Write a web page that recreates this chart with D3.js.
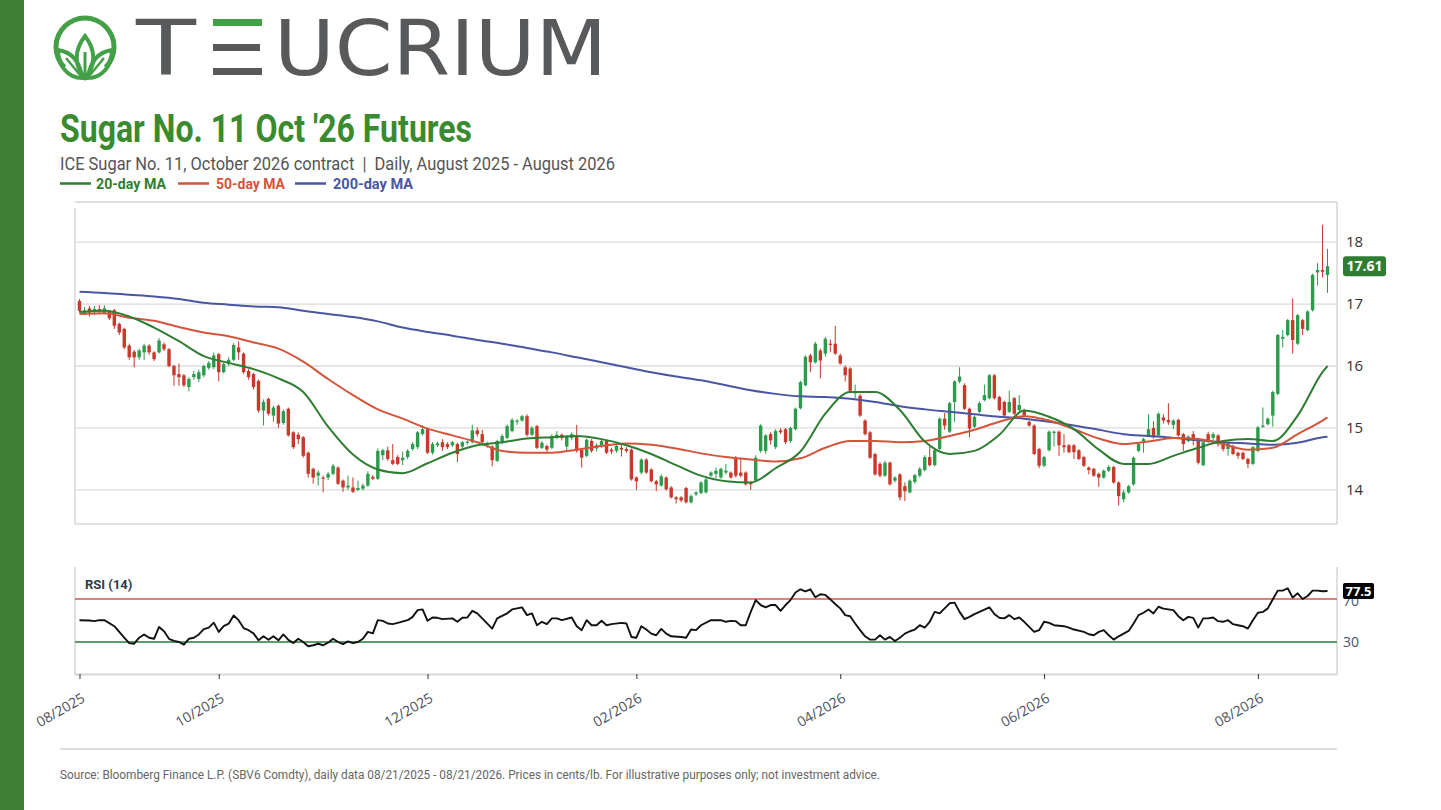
<!DOCTYPE html>
<html><head><meta charset="utf-8">
<script src="https://cdn.jsdelivr.net/npm/d3@7"></script>
<style>body{margin:0;background:#fff}svg{display:block;font-family:Roboto,"Noto Sans",sans-serif}</style>
</head><body><svg id="c" width="1441" height="810"></svg>
<script>
// ---------- DATA ----------
const startDate = "2025-08-21", endDate = "2026-08-21";
const holidays = ["2025-09-01","2025-11-27","2025-12-25","2026-01-01","2026-01-19","2026-02-16","2026-04-03","2026-05-25","2026-06-19","2026-07-03"];
const opens = [17.05,16.85,16.93,16.87,16.92,16.86,16.88,16.90,16.68,16.60,16.33,16.23,16.14,16.22,16.33,16.22,16.22,16.35,16.27,16.00,
15.87,15.85,15.66,15.82,15.79,15.85,15.97,15.98,16.19,15.90,16.03,16.10,16.30,16.20,15.92,15.87,15.76,15.28,15.47,15.20,
15.36,15.08,15.31,14.93,14.89,14.85,14.60,14.34,14.23,14.20,14.20,14.26,14.36,14.15,14.04,14.04,14.00,14.02,14.07,14.21,
14.18,14.56,14.64,14.48,14.53,14.48,14.53,14.66,14.69,14.90,14.98,14.60,14.72,14.77,14.74,14.72,14.74,14.70,14.76,14.77,
14.96,14.90,14.72,14.70,14.47,14.76,14.84,14.95,15.10,15.12,15.19,14.89,15.03,14.68,14.71,14.68,14.84,14.89,14.70,14.84,
14.87,14.65,14.55,14.79,14.67,14.70,14.79,14.65,14.63,14.68,14.66,14.65,14.20,14.28,14.49,14.33,14.14,14.07,14.20,14.04,
13.88,13.88,14.03,13.80,13.93,13.95,13.96,14.23,14.26,14.20,14.28,14.28,14.52,14.28,14.28,14.12,14.15,14.63,14.63,14.90,
14.69,14.96,14.98,14.79,14.98,15.32,15.69,16.17,16.06,16.25,16.20,16.36,16.36,16.17,15.98,15.96,15.56,15.52,15.12,14.93,
14.58,14.42,14.23,14.44,14.15,14.25,14.06,13.96,14.13,14.23,14.32,14.53,14.40,14.66,15.15,14.94,15.42,15.75,15.69,15.31,
15.02,15.26,15.45,15.48,15.85,15.50,15.42,15.26,15.48,15.29,15.29,15.10,15.04,14.66,14.39,14.64,14.92,14.94,14.72,14.72,
14.72,14.64,14.53,14.36,14.34,14.26,14.20,14.31,14.37,14.12,13.85,13.96,14.09,14.63,14.78,14.88,15.00,14.88,15.17,15.13,
15.05,15.13,14.90,14.79,14.90,14.82,14.40,14.90,14.84,14.88,14.77,14.66,14.71,14.60,14.60,14.50,14.42,14.63,15.02,15.06,
15.20,15.55,16.44,16.50,16.74,16.36,16.74,16.58,16.90,17.51,17.55,17.47];
const highs = [17.08,16.95,16.97,16.97,16.98,16.98,16.90,16.92,16.70,16.62,16.36,16.26,16.28,16.36,16.35,16.24,16.45,16.38,16.29,16.02,
16.04,15.87,15.82,15.92,15.94,16.02,16.08,16.22,16.21,16.06,16.14,16.37,16.40,16.22,15.95,15.89,15.78,15.46,15.49,15.36,
15.38,15.30,15.33,14.95,14.93,14.87,14.62,14.36,14.32,14.23,14.29,14.42,14.38,14.17,14.23,14.20,14.15,14.10,14.30,14.24,
14.67,14.66,14.70,14.74,14.56,14.62,14.66,14.77,14.95,15.04,15.00,14.77,14.78,14.82,14.77,14.79,14.76,14.79,14.80,15.05,
15.01,14.97,14.78,14.72,14.81,14.90,15.06,15.16,15.14,15.21,15.22,15.03,15.05,14.79,14.73,14.90,14.95,14.91,14.88,14.93,
15.05,14.67,14.83,14.82,14.75,14.82,14.81,14.68,14.74,14.74,14.69,14.67,14.22,14.51,14.51,14.35,14.16,14.25,14.22,14.06,
13.90,13.90,14.05,13.93,13.98,14.14,14.20,14.30,14.36,14.36,14.42,14.30,14.55,14.52,14.30,14.14,14.56,15.06,14.90,14.93,
14.98,15.00,15.00,15.02,15.33,15.76,16.17,16.20,16.39,16.28,16.47,16.43,16.65,16.20,16.01,15.98,15.70,15.55,15.14,14.95,
14.60,14.45,14.47,14.46,14.22,14.27,14.12,14.17,14.26,14.37,14.56,14.70,14.67,15.17,15.24,15.42,15.77,15.98,15.72,15.33,
15.20,15.43,15.70,15.87,15.87,15.52,15.44,15.60,15.50,15.53,15.31,15.12,15.06,14.68,14.55,14.96,14.96,14.96,14.90,14.74,
14.74,14.66,14.55,14.38,14.36,14.28,14.33,14.40,14.39,14.14,14.00,14.08,14.54,14.76,14.84,15.22,15.11,15.25,15.22,15.40,
15.14,15.15,14.92,14.88,14.95,14.84,14.79,14.94,14.93,14.90,14.79,14.77,14.73,14.62,14.62,14.52,14.71,15.03,15.33,15.17,
15.60,16.52,16.58,16.76,17.09,16.84,16.76,16.90,17.49,17.66,18.28,17.89];
const lows = [16.86,16.82,16.80,16.82,16.85,16.83,16.74,16.60,16.50,16.27,16.10,15.98,16.10,16.10,16.18,16.08,16.20,16.24,15.98,15.68,
15.68,15.66,15.59,15.78,15.74,15.82,15.94,15.95,15.75,15.88,16.00,16.08,16.10,15.87,15.78,15.62,15.25,15.04,15.20,15.10,
15.00,15.05,14.86,14.66,14.74,14.52,14.20,14.10,14.07,13.96,14.16,14.24,14.08,13.97,14.00,13.95,13.98,13.99,14.05,14.16,
14.16,14.48,14.47,14.40,14.40,14.40,14.50,14.63,14.66,14.88,14.58,14.57,14.69,14.63,14.66,14.69,14.45,14.67,14.73,14.75,
14.86,14.74,14.68,14.38,14.45,14.74,14.82,14.93,15.05,15.10,14.86,14.87,14.66,14.66,14.60,14.66,14.82,14.80,14.62,14.80,
14.60,14.36,14.53,14.60,14.62,14.68,14.58,14.58,14.60,14.54,14.60,14.15,14.00,14.25,14.26,14.12,13.98,14.05,13.99,13.86,
13.78,13.80,13.78,13.78,13.90,13.93,13.94,14.21,14.19,14.18,14.25,14.18,14.20,14.20,14.07,14.00,14.13,14.60,14.58,14.73,
14.66,14.90,14.74,14.76,14.96,15.30,15.67,15.90,16.04,15.80,16.15,16.22,16.18,16.02,15.75,15.56,15.48,15.18,14.88,14.50,
14.23,14.20,14.21,14.07,14.12,13.83,13.82,13.94,14.10,14.20,14.30,14.38,14.38,14.64,14.97,14.92,15.10,15.72,15.29,14.85,
15.00,15.24,15.43,15.46,15.46,15.27,15.18,15.24,15.21,15.27,15.18,15.02,14.56,14.35,14.37,14.62,14.70,14.55,14.60,14.59,
14.50,14.48,14.37,14.25,14.21,14.05,14.18,14.29,14.10,13.75,13.80,13.94,14.07,14.61,14.60,14.86,14.83,14.86,15.07,15.05,
14.98,14.86,14.63,14.77,14.72,14.41,14.38,14.76,14.80,14.70,14.62,14.55,14.56,14.50,14.48,14.35,14.40,14.61,15.00,15.04,
15.02,15.53,16.30,16.48,16.20,16.34,16.50,16.56,16.88,17.30,17.43,17.18];
const closes = [16.89,16.90,16.86,16.92,16.88,16.93,16.77,16.65,16.54,16.30,16.14,16.14,16.25,16.33,16.22,16.11,16.41,16.27,16.00,15.85,
15.82,15.69,15.79,15.87,15.90,16.00,16.05,16.17,15.90,16.03,16.10,16.34,16.22,15.90,15.82,15.66,15.28,15.42,15.23,15.33,
15.07,15.27,14.88,14.69,14.82,14.55,14.26,14.20,14.28,14.18,14.26,14.39,14.10,14.04,14.07,13.97,14.03,14.07,14.26,14.18,
14.63,14.64,14.50,14.42,14.42,14.52,14.63,14.74,14.93,14.98,14.60,14.74,14.75,14.69,14.69,14.77,14.58,14.77,14.78,14.96,
14.90,14.77,14.75,14.48,14.79,14.87,15.03,15.13,15.12,15.19,14.89,15.00,14.68,14.76,14.65,14.87,14.89,14.84,14.86,14.90,
14.63,14.52,14.81,14.63,14.72,14.79,14.60,14.62,14.71,14.65,14.63,14.17,14.14,14.49,14.28,14.14,14.09,14.22,14.01,13.88,
13.85,13.83,13.80,13.90,13.96,14.12,14.17,14.28,14.31,14.34,14.31,14.20,14.23,14.23,14.09,14.09,14.52,15.04,14.88,14.80,
14.95,14.93,14.77,15.00,15.31,15.74,16.15,16.06,16.36,16.09,16.44,16.34,16.20,16.04,15.85,15.60,15.58,15.20,14.90,14.52,
14.25,14.23,14.44,14.09,14.20,13.88,13.98,14.15,14.24,14.34,14.53,14.40,14.64,15.15,15.04,15.40,15.75,15.83,15.31,14.99,
15.18,15.40,15.53,15.85,15.48,15.29,15.20,15.42,15.23,15.37,15.20,15.04,14.58,14.39,14.53,14.94,14.94,14.72,14.69,14.61,
14.61,14.50,14.39,14.32,14.23,14.20,14.31,14.37,14.12,13.90,13.96,14.06,14.52,14.74,14.82,14.98,14.85,15.23,15.12,15.09,
15.12,14.88,14.74,14.86,14.79,14.44,14.77,14.79,14.90,14.74,14.66,14.75,14.58,14.55,14.50,14.42,14.69,15.01,15.04,15.15,
15.58,16.50,16.47,16.74,16.42,16.82,16.60,16.88,17.47,17.55,17.52,17.61];
// moving averages at trading-day positions
const maIdx = [0,5,10,15,20,25,30,35,40,45,50,55,60,65,70,75,80,85,90,95,100,105,110,115,120,125,130,135,140,145,150,155,160,165,170,175,180,185,190,195,200,205,210,215,220,225,230,235,240,245,250,251];
const ma20 = [16.87,16.89,16.80,16.62,16.40,16.16,16.05,15.95,15.80,15.58,15.02,14.57,14.33,14.27,14.43,14.60,14.72,14.77,14.83,14.85,14.87,14.82,14.72,14.58,14.40,14.23,14.14,14.12,14.35,14.62,15.23,15.58,15.58,15.29,14.78,14.58,14.63,14.89,15.28,15.18,14.98,14.65,14.42,14.42,14.55,14.68,14.79,14.82,14.79,15.20,15.90,16.00];
const ma50 = [16.84,16.85,16.78,16.73,16.63,16.54,16.48,16.38,16.28,16.07,15.79,15.53,15.30,15.15,14.99,14.88,14.77,14.63,14.60,14.60,14.65,14.71,14.75,14.73,14.67,14.59,14.53,14.49,14.46,14.51,14.68,14.79,14.79,14.77,14.79,14.87,14.97,15.10,15.19,15.12,14.98,14.83,14.74,14.78,14.84,14.82,14.74,14.65,14.68,14.90,15.12,15.17];
const ma200 = [17.20,17.18,17.15,17.12,17.08,17.02,16.99,16.96,16.95,16.89,16.84,16.79,16.72,16.62,16.55,16.49,16.42,16.36,16.29,16.22,16.14,16.06,15.98,15.90,15.83,15.77,15.69,15.61,15.55,15.51,15.50,15.47,15.42,15.35,15.30,15.26,15.22,15.18,15.15,15.10,15.04,14.97,14.90,14.87,14.84,14.80,14.77,14.75,14.73,14.76,14.85,14.86];
// RSI(14)
const rsiIdx = [0,2,3,4,5,7,8,9,10,11,12,13,14,15,16,17,18,19,20,21,22,23,24,25,26,27,28,29,30,31,32,33,34,35,36,37,38,39,40,41,42,43,44,45,46,47,48,49,50,51,52,53,54,55,56,57,58,59,60,61,62,63,64,66,67,68,69,70,71,72,73,75,76,77,78,79,80,81,83,84,86,87,88,89,90,91,92,93,94,95,96,97,99,100,101,102,103,104,105,106,107,109,110,111,112,113,114,115,116,117,118,119,121,122,123,124,125,127,128,129,130,131,132,133,134,135,136,137,138,139,140,141,142,143,144,145,146,147,148,149,150,151,152,153,154,155,156,157,158,159,160,161,162,163,164,165,166,167,168,169,170,171,172,173,174,175,176,177,178,179,180,181,183,184,185,186,187,188,189,190,191,192,193,194,195,196,198,199,200,202,203,204,205,206,207,208,209,210,211,212,213,214,215,216,217,218,219,220,221,222,223,224,225,226,227,228,229,230,231,232,233,234,235,236,237,238,239,240,241,242,243,244,245,246,247,248,249,250,251];
const rsiVal = [50.3,50.0,49.4,50.3,50.3,44.7,39.4,34,29,28.4,34,37,34,33,44,40,33,31,30,27.5,33,34,37,42,43.4,48,39.4,44.7,47,54.7,50.3,43,41,38,31.6,35.3,32,35.3,31.6,37,32,29,33,30,26,27,28.4,27,29.4,33,30,28,30.6,29,30,33,39.4,38,50.3,49.7,47.2,46.6,47.8,50.3,53.4,59.7,60.3,49.7,52.8,52.5,51.3,52,48.8,52.5,52.8,59,56.6,52,42.5,52,56.6,60.3,61.3,62.2,55,56.6,45.6,48.8,46.6,52,52,50.3,52.8,44.7,41,50.3,45.6,45.6,49.7,45.6,46.6,47.8,47.2,34.7,34,44.7,41.6,37.8,36.3,42.2,37.8,35.3,34.7,34,41.6,41,45.6,50.3,50.3,50.3,48.8,49.7,49.4,45.6,45.6,58,69,64.4,62.2,64.4,64.4,59,64.4,69,76,79,77,79,71.6,74.4,73.8,69.7,65.3,61.3,55,54,47.2,41,35.3,32.2,32.2,36.3,32.2,34.7,31,34,37.8,40,41.6,45.6,43.4,48.8,58,56.6,61.3,66,66.6,58,51.3,53.4,56,58,62.2,56,52.5,52,55,51.3,52.8,48.8,44,39.4,41,48.8,47.8,45.6,44.7,43.4,41.6,39.4,37.2,36.3,39.4,41,36.3,32.2,35.3,37.8,40.3,47.2,55,57.2,60.3,56.6,62.8,61,60.3,59.7,54,50.3,53.4,52.5,43.4,52,52,52.8,49.4,48.8,50.3,46.6,45.6,44.7,42.5,50.3,57.2,58,61.3,69.7,77.8,77.8,80,71.3,75.3,70,72.8,77.8,77.8,77.2,77.5];
const priceTicks = [14,15,16,17,18];
const rsiLevels = [30,70];
const legendItems = [{name:"20-day MA",color:"#2f7d32"},{name:"50-day MA",color:"#d2553c"},{name:"200-day MA",color:"#4b56a3"}];

// ---------- TRADING DATES ----------
const fmtDay = d3.timeFormat("%Y-%m-%d");
const dates = d3.timeDay.range(new Date(startDate+"T00:00"), d3.timeDay.offset(new Date(endDate+"T00:00"),1))
  .filter(d => d.getDay()!==0 && d.getDay()!==6 && !holidays.includes(fmtDay(d)));
const N = closes.length;
const tickIdx = [0];
for (let i=1;i<dates.length && i<N;i++){
  if (dates[i].getMonth()!==dates[i-1].getMonth() && dates[i].getMonth()%2===1) tickIdx.push(i);
}
const fmtTick = d3.timeFormat("%m/%Y");

// ---------- DRAW ----------
const svg = d3.select("#c");
const GREEN = "#2a9c4c", RED = "#c8382b";
const AXIS_FONT = "'Open Sans', 'DejaVu Sans', sans-serif";
svg.append("rect").attr("x",0).attr("y",0).attr("width",24).attr("height",810).attr("fill","#3c7f34");

// logo
const logo = svg.append("g");
const lg = "#43a047";
const cx=85, cy=47, r=29;
const arc = d3.arc().innerRadius(r-2.5).outerRadius(r+2.5).startAngle(-2.35).endAngle(2.35);
logo.append("path").attr("d",arc()).attr("transform",`translate(${cx},${cy})`).attr("fill",lg);
logo.append("path").attr("d","M85,78 C74,66 74,50 85,36 C96,50 96,66 85,78 Z").attr("fill","none").attr("stroke",lg).attr("stroke-width",4);
logo.append("path").attr("d","M85,76 L85,52").attr("stroke",lg).attr("stroke-width",3);
logo.append("path").attr("d","M82,78 C68,78 58,66 58,50 C72,52 80,62 82,78 Z").attr("fill","none").attr("stroke",lg).attr("stroke-width",4);
logo.append("path").attr("d","M88,78 C102,78 112,66 112,50 C98,52 90,62 88,78 Z").attr("fill","none").attr("stroke",lg).attr("stroke-width",4);
logo.append("path").attr("d","M80,75 L66,58 M90,75 L104,58").attr("stroke",lg).attr("stroke-width",2.5);
const grayLogo = "#58595b";
const LOGO_FONT = "'DejaVu Sans', sans-serif";
logo.append("text").attr("x",136).attr("y",75).attr("font-family",LOGO_FONT).attr("font-size",77)
  .attr("fill",grayLogo).attr("textLength",60).attr("lengthAdjust","spacingAndGlyphs").text("T");
logo.append("rect").attr("x",213).attr("y",19).attr("width",49).attr("height",7).attr("fill",lg);
logo.append("rect").attr("x",213).attr("y",44).attr("width",47).attr("height",7).attr("fill",grayLogo);
logo.append("rect").attr("x",213).attr("y",68).attr("width",49).attr("height",7).attr("fill",grayLogo);
logo.append("text").attr("x",274).attr("y",75).attr("font-family",LOGO_FONT).attr("font-size",77)
  .attr("fill",grayLogo).attr("textLength",333).attr("lengthAdjust","spacingAndGlyphs").text("UCRIUM");

// titles
svg.append("text").attr("x",60).attr("y",142).attr("font-size",39).attr("font-weight",700).attr("fill","#3a8a2f")
  .attr("textLength",412).attr("lengthAdjust","spacingAndGlyphs").text("Sugar No. 11 Oct '26 Futures");
svg.append("text").attr("x",60).attr("y",170).attr("font-size",19).attr("fill","#555")
  .attr("textLength",555).attr("lengthAdjust","spacingAndGlyphs")
  .text("ICE Sugar No. 11, October 2026 contract\u00a0\u00a0|\u00a0\u00a0Daily, August 2025 - August 2026");
const legX = [[60,96,70],[178,216,69],[295,333,80]];
legendItems.forEach((d,i)=>{
  svg.append("line").attr("x1",legX[i][0]).attr("x2",legX[i][0]+31).attr("y1",183.5).attr("y2",183.5).attr("stroke",d.color).attr("stroke-width",2.5);
  svg.append("text").attr("x",legX[i][1]).attr("y",189).attr("font-size",14).attr("font-weight",700).attr("fill",d.color)
    .attr("textLength",legX[i][2]).attr("lengthAdjust","spacingAndGlyphs").text(d.name);
});

// scales
const L = 75, R = 1337;
const x = d3.scalePoint().domain(d3.range(N)).range([79.5, 1327.5]);
const y = d3.scaleLinear().domain([13.45, 18.55]).range([524, 208]);
const yr = d3.scaleLinear().domain([0, 100]).range([674.25, 566.75]);

// price panel frame + grid
const grid = svg.append("g");
priceTicks.forEach(t=>{
  grid.append("line").attr("x1",L).attr("x2",R).attr("y1",y(t)).attr("y2",y(t)).attr("stroke","#dcdcdc").attr("stroke-width",1.3);
});
grid.append("line").attr("x1",L).attr("x2",R).attr("y1",202).attr("y2",202).attr("stroke","#d6d6d6").attr("stroke-width",1.5);
grid.append("line").attr("x1",L).attr("x2",L).attr("y1",208).attr("y2",524).attr("stroke","#d6d6d6").attr("stroke-width",1.5);
grid.append("line").attr("x1",L).attr("x2",R).attr("y1",524).attr("y2",524).attr("stroke","#d6d6d6").attr("stroke-width",1.5);
grid.append("line").attr("x1",R).attr("x2",R).attr("y1",202).attr("y2",524).attr("stroke","#d6d6d6").attr("stroke-width",1.5);
const yAxis = d3.axisRight(y).tickValues(priceTicks).tickSize(0).tickPadding(9).tickFormat(d3.format("d"));
svg.append("g").attr("transform",`translate(${R},0)`).call(yAxis)
  .call(g=>g.select(".domain").remove())
  .call(g=>g.selectAll("text").attr("font-size",15).attr("fill","#333").attr("font-family",AXIS_FONT));

// candles
const cg = svg.append("g");
d3.range(N).forEach(i=>{
  const up = closes[i] >= opens[i];
  const col = up ? GREEN : RED;
  cg.append("line").attr("x1",x(i)).attr("x2",x(i)).attr("y1",y(highs[i])).attr("y2",y(lows[i])).attr("stroke",col).attr("stroke-width",1);
  const top = y(Math.max(opens[i],closes[i])), bot = y(Math.min(opens[i],closes[i]));
  cg.append("rect").attr("x",x(i)-1.7).attr("width",3.4).attr("y",top).attr("height",Math.max(1.2,bot-top)).attr("fill",col);
});

// moving averages
const maLine = d3.line().x(d=>x(d[0])).y(d=>y(d[1])).curve(d3.curveMonotoneX);
[[ma200,legendItems[2].color],[ma50,legendItems[1].color],[ma20,legendItems[0].color]].forEach(([arr,col])=>{
  svg.append("path").attr("d",maLine(maIdx.map((k,j)=>[k,arr[j]]))).attr("fill","none").attr("stroke",col).attr("stroke-width",2);
});

// last price badge
const lastC = closes[N-1];
svg.append("rect").attr("x",1343).attr("y",y(lastC)-10).attr("width",43).attr("height",20).attr("rx",3).attr("fill","#2e7d32");
svg.append("text").attr("x",1364.5).attr("y",y(lastC)+5).attr("text-anchor","middle").attr("font-size",14).attr("font-weight",700)
  .attr("fill","#fff").attr("font-family",AXIS_FONT).text(lastC.toFixed(2));

// RSI panel
const rp = svg.append("g");
rp.append("line").attr("x1",L).attr("x2",L).attr("y1",567).attr("y2",675).attr("stroke","#d6d6d6").attr("stroke-width",1.5);
rp.append("line").attr("x1",R).attr("x2",R).attr("y1",567).attr("y2",675).attr("stroke","#d6d6d6").attr("stroke-width",1.5);
rp.append("line").attr("x1",L).attr("x2",R).attr("y1",yr(rsiLevels[1])).attr("y2",yr(rsiLevels[1])).attr("stroke","#d9534f").attr("stroke-width",1.5);
rp.append("line").attr("x1",L).attr("x2",R).attr("y1",yr(rsiLevels[0])).attr("y2",yr(rsiLevels[0])).attr("stroke","#5c9e6b").attr("stroke-width",2);
rp.append("text").attr("x",85).attr("y",589).attr("font-size",13).attr("font-weight",700).attr("fill","#2d3a4a").text("RSI (14)");
rp.append("path").attr("d",d3.line().x(d=>x(d[0])).y(d=>yr(d[1]))(rsiIdx.map((k,j)=>[k,rsiVal[j]])))
  .attr("fill","none").attr("stroke","#111").attr("stroke-width",1.9).attr("stroke-linejoin","round");
rsiLevels.forEach(v=>{
  rp.append("text").attr("x",1343).attr("y",yr(v)+(v===70?7:5)).attr("font-size",14).attr("fill","#4a5568")
    .attr("font-family",AXIS_FONT).text(v);
});
const lastR = rsiVal[rsiVal.length-1];
rp.append("rect").attr("x",1343).attr("y",yr(lastR)-8).attr("width",31).attr("height",16).attr("rx",2).attr("fill","#000");
rp.append("text").attr("x",1358.5).attr("y",yr(lastR)+5).attr("text-anchor","middle").attr("font-size",13).attr("font-weight",700)
  .attr("fill","#fff").attr("font-family",AXIS_FONT).text(lastR.toFixed(1));

// x axis
const xAxis = d3.axisBottom(x).tickValues(tickIdx).tickSize(5).tickFormat(i=>fmtTick(dates[i]));
svg.append("g").attr("transform","translate(0,674)").call(xAxis)
  .call(g=>g.select(".domain").attr("d",`M${L},0.5H${R}`).attr("stroke","#d6d6d6").attr("stroke-width",2))
  .call(g=>g.selectAll(".tick line").attr("stroke","#333"))
  .call(g=>g.selectAll("text").attr("font-size",14).attr("fill","#4a5060").attr("font-family",AXIS_FONT)
    .attr("text-anchor","end").attr("x",0).attr("y",0).attr("dy",0)
    .attr("transform","translate(6,27) rotate(-30)"));

// footer
svg.append("line").attr("x1",60).attr("x2",1337).attr("y1",749).attr("y2",749).attr("stroke","#dedede").attr("stroke-width",2);
svg.append("text").attr("x",60).attr("y",779).attr("font-size",12.5).attr("fill","#666")
  .attr("textLength",820).attr("lengthAdjust","spacingAndGlyphs")
  .text("Source: Bloomberg Finance L.P. (SBV6 Comdty), daily data 08/21/2025 - 08/21/2026. Prices in cents/lb. For illustrative purposes only; not investment advice.");
</script></body></html>
